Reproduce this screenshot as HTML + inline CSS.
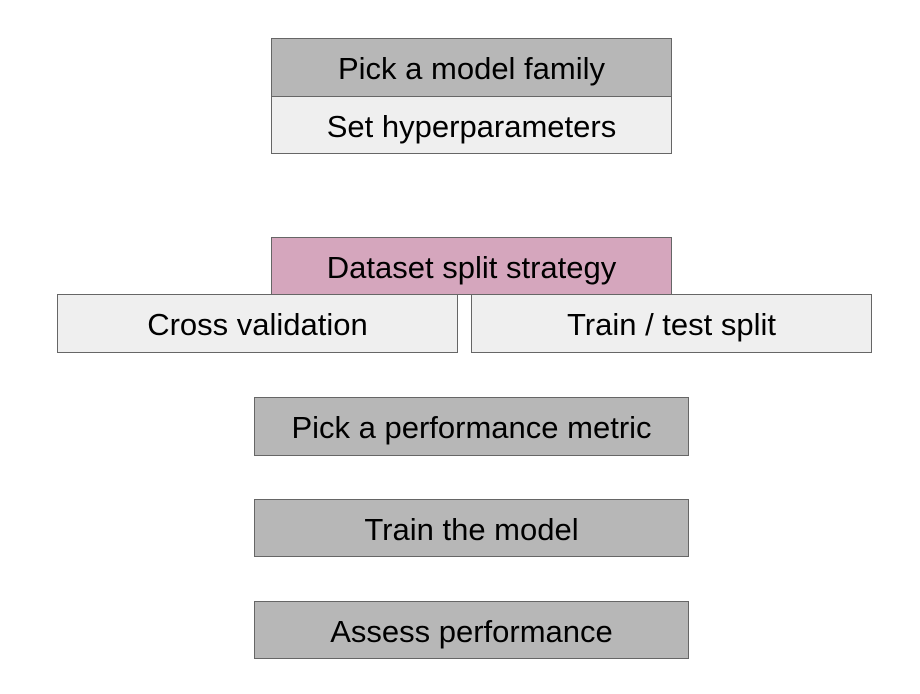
<!DOCTYPE html>
<html><head><style>
body{margin:0;width:920px;height:694px;background:#fff;position:relative;overflow:hidden;font-family:"Liberation Sans",Arial,sans-serif;}
.b{position:absolute;box-sizing:border-box;border:1.5px solid #666;display:flex;align-items:center;justify-content:center;font-size:31px;color:#000;padding-top:3px;}
.g{background:#b7b7b7}.l{background:#efefef}.p{background:#d5a6bd}
</style></head><body>
<div class="b g" style="left:271px;top:38px;width:401px;height:59px">Pick a model family</div>
<div class="b l" style="left:271px;top:96px;width:401px;height:58px">Set hyperparameters</div>
<div class="b p" style="left:271px;top:237px;width:401px;height:58px">Dataset split strategy</div>
<div class="b l" style="left:57px;top:294px;width:401px;height:59px">Cross validation</div>
<div class="b l" style="left:471px;top:294px;width:401px;height:59px">Train / test split</div>
<div class="b g" style="left:254px;top:397px;width:435px;height:59px">Pick a performance metric</div>
<div class="b g" style="left:254px;top:499px;width:435px;height:58px">Train the model</div>
<div class="b g" style="left:254px;top:601px;width:435px;height:58px">Assess performance</div>
</body></html>
